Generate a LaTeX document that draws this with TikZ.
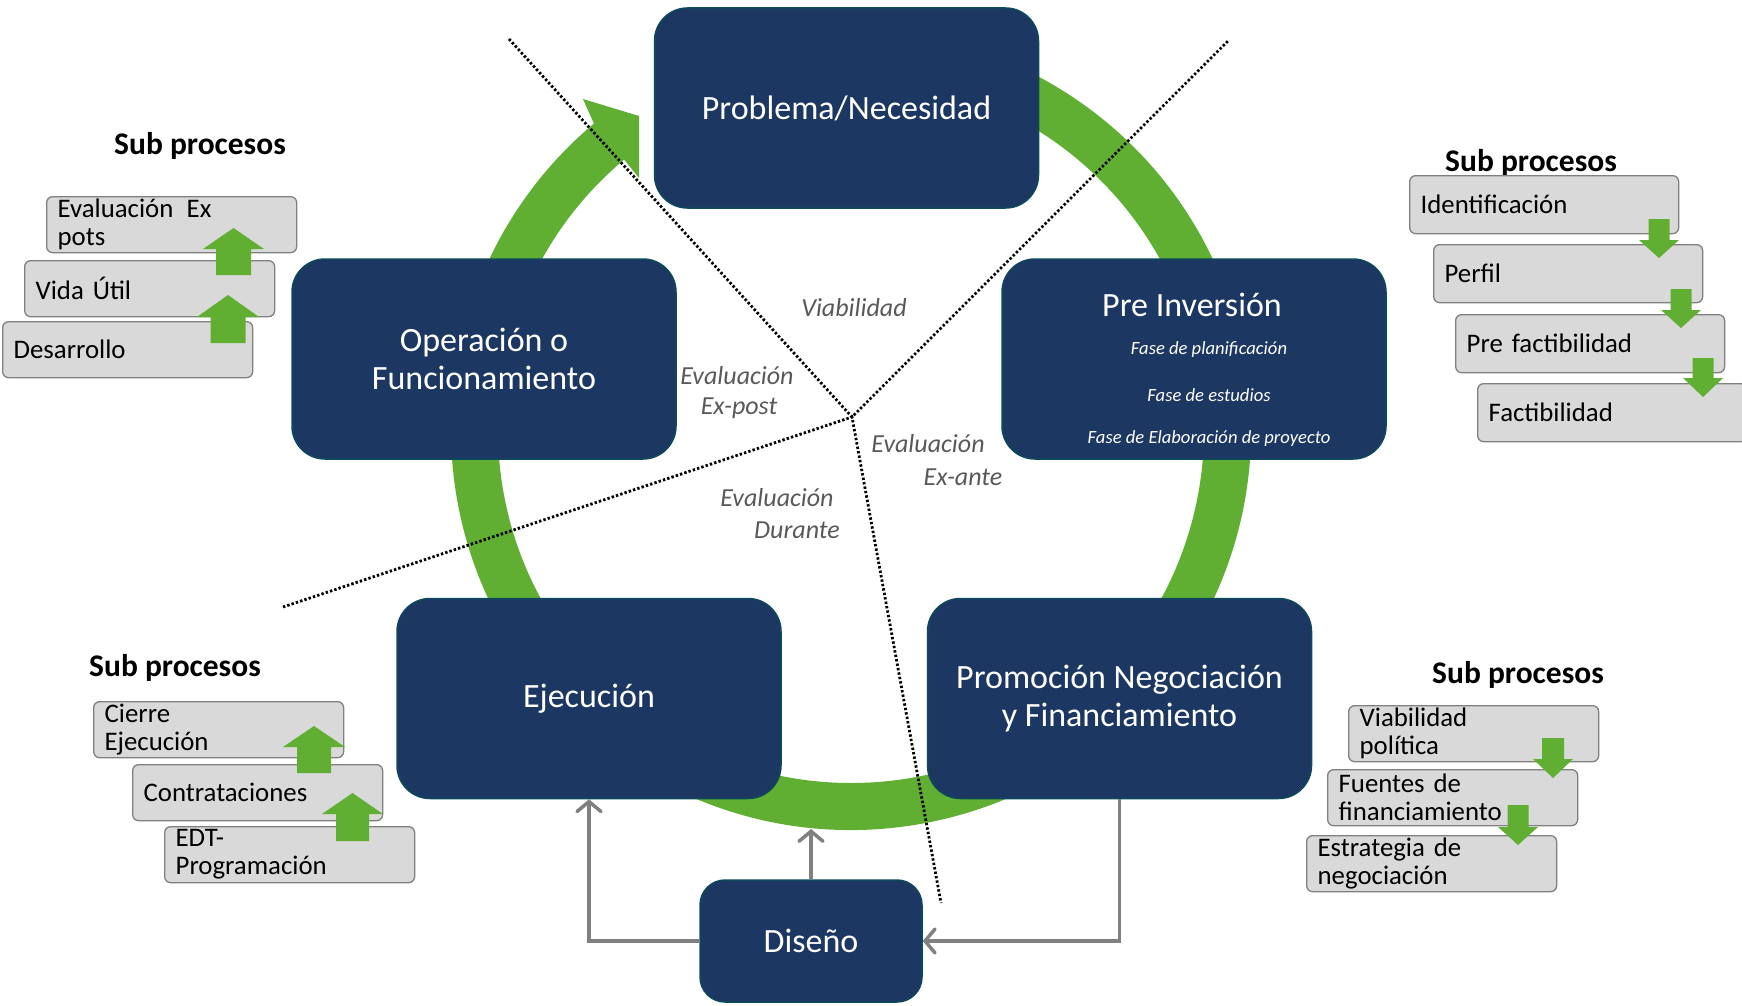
\documentclass[tikz,border=0pt]{standalone}
\usepackage{fontspec}
\setmainfont{Carlito}
\usetikzlibrary{arrows.meta,calc}
\definecolor{navy}{RGB}{28,56,98}
\definecolor{navyedge}{RGB}{14,72,92}
\definecolor{ringgreen}{RGB}{96,174,50}
\definecolor{subfill}{RGB}{217,217,217}
\definecolor{subedge}{RGB}{128,128,128}
\definecolor{labelgray}{RGB}{89,89,89}
\definecolor{conngray}{RGB}{128,128,128}
\newcommand\greenblockarrow[6]{%
  \fill[ringgreen] (#1,#2) -- ({#1+#5},#3) -- ({#1+#6},#3) -- ({#1+#6},#4) -- ({#1-#6},#4) -- ({#1-#6},#3) -- ({#1-#5},#3) -- cycle;}
\tikzset{
  phase/.style={draw=navyedge, line width=1.5pt, fill=navy, rounded corners=33pt, text=white,
    font=\fontsize{34}{38}\selectfont, align=center, inner sep=0pt, minimum width=384pt, minimum height=200pt},
  subbox/.style={draw=subedge, line width=1.3pt, fill=subfill, rounded corners=6pt,
    font=\fontsize{26.8}{28}\selectfont, align=left, inner xsep=11pt, inner ysep=0pt,
    minimum height=56pt, text width=228pt, anchor=north west},
  subboxw/.style={subbox, text width=247pt, minimum height=58pt},
  subtitle/.style={font=\fontsize{31.5}{33}\selectfont\bfseries, inner sep=0pt},
  evlabel/.style={text=labelgray, font=\fontsize{26}{28}\selectfont\itshape, inner sep=0pt},
  conn/.style={draw=conngray, line width=3.5pt, -{Straight Barb[length=10pt,width=24pt,line cap=round]}},
  divider/.style={line width=2.8pt, dash pattern=on 2.4pt off 2.1pt},
}
\begin{document}
\begin{tikzpicture}[x=1pt,y=-1pt]
\useasboundingbox (0,0) rectangle (1742,1006);

% green cycle ring with arrow head
\coordinate (C) at (851,430);
\fill[ringgreen] ($(C)+(-100:400)$) arc[start angle=-100,end angle=230,radius=400]
  -- (583,99) -- (639,116) -- (639,178) -- ($(C)+(230:353)$)
  arc[start angle=230,end angle=-100,radius=353] -- cycle;

% dotted dividers
\coordinate (O) at (852,417);
\coordinate (dTL) at (509,39);
\coordinate (dTR) at (1229,40);
\coordinate (dL) at (283,607);
\coordinate (dB) at (941,903);
\draw[divider] (dTL) -- (O) -- (dTR);
\draw[divider] (dL) -- (O) -- (dB);

% phases
\node[phase] (prob) at (846.5,108) {Problema/Necesidad};
\node[phase] (oper) at (484,359) {Operación o\\Funcionamiento};
\node[phase] (preinv) at (1194,359) {};
\node[text=white, font=\fontsize{34}{38}\selectfont, inner sep=0pt] (preinvT) at (1192,305) {Pre Inversión};
\node[text=white, font=\fontsize{18.6}{20}\selectfont\itshape, inner sep=0pt] (pi1) at (1209,350) {Fase de planificación};
\node[text=white, font=\fontsize{18.6}{20}\selectfont\itshape, inner sep=0pt] (pi2) at (1209,395.5) {Fase de estudios};
\node[text=white, font=\fontsize{18.6}{20}\selectfont\itshape, inner sep=0pt] (pi3) at (1209,439) {Fase de Elaboración de proyecto};
\node[phase] (ejec) at (589,698.5) {Ejecución};
\node[phase] (prom) at (1119.5,698.5) {Promoción Negociación\\y Financiamiento};
\node[phase, minimum width=222pt, minimum height=122pt, rounded corners=25pt] (dis) at (811,941) {Diseño};

% connectors
\coordinate (ringb) at (811,829);
\draw[conn] (dis.west) -| (ejec.south);
\draw[conn] (dis.north) -- (ringb);
\draw[conn] (prom.south) |- (dis.east);

% evaluation labels
\node[evlabel] (viab) at (854,308) {Viabilidad};
\node[evlabel] (expost1) at (737,376) {Evaluación};
\node[evlabel] (expost2) at (739,408) {Ex-post};
\node[evlabel] (exante1) at (928,444) {Evaluación};
\node[evlabel] (exante2) at (963,477) {Ex-ante};
\node[evlabel] (dur1) at (777,498) {Evaluación};
\node[evlabel] (dur2) at (797,530) {Durante};

% top-left sub processes
\node[subtitle] (stTL) at (200,146) {Sub procesos};
\node[subbox] (e1) at (46,196) {Evaluación\enspace Ex\\pots};
\node[subbox] (e2) at (24,260) {Vida Útil};
\node[subbox] (e3) at (2,321) {Desarrollo};
\greenblockarrow{233.5}{228}{249}{275}{30.5}{17.5}
\greenblockarrow{228}{295}{317}{343}{31}{17.5}

% top-right sub processes
\node[subtitle] (stTR) at (1531,163) {Sub procesos};
\node[subboxw] (i1) at (1409,175) {Identificación};
\node[subboxw] (i2) at (1433,244) {Perfil};
\node[subboxw] (i3) at (1455,314) {Pre factibilidad};
\node[subboxw] (i4) at (1477,383) {Factibilidad};
\greenblockarrow{1659}{258}{240}{219}{20}{10.5}
\greenblockarrow{1681}{328}{310}{289}{20}{10.5}
\greenblockarrow{1703}{397}{378}{358}{20}{10.5}

% bottom-left sub processes
\node[subtitle] (stBL) at (175,668) {Sub procesos};
\node[subbox] (b1) at (93,701) {Cierre\\Ejecución};
\node[subbox] (b2) at (132,764) {Contrataciones};
\node[subbox] (b3) at (164,826) {EDT-\\Programación};
\greenblockarrow{314}{726}{747}{773}{31}{17}
\greenblockarrow{352.5}{793}{814}{841}{30.5}{16.5}

% bottom-right sub processes
\node[subtitle] (stBR) at (1518,675) {Sub procesos};
\node[subbox] (r1) at (1348,705) {Viabilidad\\política};
\node[subbox] (r2) at (1327,769) {Fuentes de\\financiamiento};
\node[subbox] (r3) at (1306,835) {Estrategia de\\negociación};
\greenblockarrow{1553}{778}{759}{738}{20}{11}
\greenblockarrow{1518}{845}{827}{805}{20}{10.5}
\end{tikzpicture}
\end{document}
